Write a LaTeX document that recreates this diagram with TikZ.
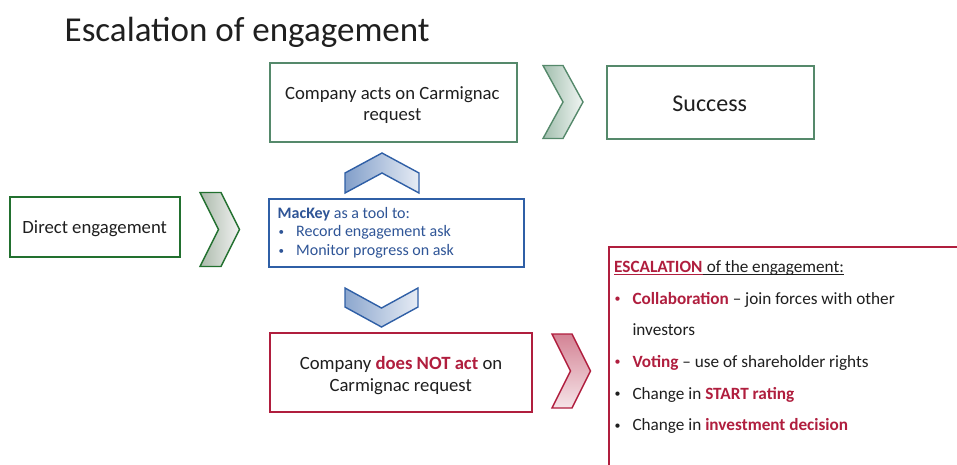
\documentclass[tikz,border=0pt]{standalone}
\usepackage{fontspec}
\setmainfont{Carlito}

\definecolor{ink}{HTML}{1F1F1F}
\definecolor{dkgreen}{HTML}{22702F}
\definecolor{mdgreen}{HTML}{55896B}
\definecolor{blueline}{HTML}{2F5FA6}
\definecolor{bluetext}{HTML}{2F5597}
\definecolor{crimson}{HTML}{B01E3E}

\newcommand{\smalldot}[2]{\raisebox{#2}{\fontsize{#1}{#1}\selectfont •}}

\begin{document}
\begin{tikzpicture}[x=1pt,y=-1pt,
  box/.style={draw, line width=2pt, fill=white, inner sep=0pt},
  txt/.style={inner sep=0pt, anchor=base, text=ink, font=\fontsize{18.7}{22}\selectfont},
  mtxt/.style={inner sep=0pt, anchor=base west, text=bluetext, font=\fontsize{16}{19}\selectfont},
  etxt/.style={inner sep=0pt, anchor=base west, text=ink, font=\fontsize{17.2}{20}\selectfont},
  dot/.style={inner sep=0pt, anchor=base west},
  chevron/.style={line width=1.4pt, line join=miter},
  uline/.style={line width=0.9pt},
]
\useasboundingbox (0,0) rectangle (957,464);
\clip (0,0) rectangle (957,464);

% title
\node[inner sep=0pt, anchor=base west, text=ink, font=\fontsize{35}{40}\selectfont]
  (title) at (64.5,41.5) {Escalation of engagement};

% boxes
\node[box, draw=dkgreen, minimum width=170, minimum height=60] (direct) at (95,227) {};
\node[box, draw=mdgreen, minimum width=247, minimum height=79] (acts) at (393.5,102.5) {};
\node[box, draw=mdgreen, minimum width=207, minimum height=73] (success) at (710.5,102) {};
\node[box, draw=blueline, minimum width=255, minimum height=68] (mackey) at (396.5,233) {};
\node[box, draw=crimson, minimum width=262, minimum height=79] (notact) at (401,372.5) {};
\node[box, draw=crimson, minimum width=400, minimum height=300, anchor=north west] (esc) at (607.5,246) {};

% chevrons
\draw[chevron, draw=dkgreen, left color=green!10!gray!60, right color=gray!10]
  (200,192.5) -- (221,192.5) -- (239.5,229.5) -- (221,266.5) -- (200,266.5) -- (218.5,229.5) -- cycle;
\draw[chevron, draw=mdgreen, left color=mdgreen!55, right color=mdgreen!8]
  (543,65.5) -- (563,65.5) -- (583,102) -- (563,138.5) -- (543,138.5) -- (563,102) -- cycle;
\draw[chevron, draw=crimson, top color=crimson!55, bottom color=crimson!12]
  (552,334) -- (572,334) -- (590.5,371) -- (572,408) -- (552,408) -- (570.5,371) -- cycle;
\draw[chevron, draw=blueline, left color=blueline!60, right color=blueline!12]
  (345,173) -- (382,153) -- (419,173) -- (419,193) -- (382,173) -- (345,193) -- cycle;
\draw[chevron, draw=blueline, left color=blueline!55, right color=blueline!12]
  (345,288) -- (381.5,308) -- (418,288) -- (418,307) -- (381.5,327) -- (345,307) -- cycle;

% box texts
\node[txt] (tdirect) at (94.7,233.3) {Direct engagement};
\node[txt] (tacts1) at (392.3,99.3) {Company acts on Carmignac};
\node[txt] (tacts2) at (392.3,120.6) {request};
\node[txt, font=\fontsize{24}{28}\selectfont] (tsuccess) at (709.7,111) {Success};
\node[txt] (tnot1) at (401,369.3) {Company \textcolor{crimson}{\textbf{does NOT act}} on};
\node[txt] (tnot2) at (400.7,391.2) {Carmignac request};

% MacKey box texts
\node[mtxt] (m0) at (277.5,218.3) {\textbf{MacKey} as a tool to:};
\node[dot, text=bluetext] (m1b) at (278.5,236.8) {\smalldot{11}{1.6pt}};
\node[mtxt] (m1) at (296,236.8) {Record engagement ask};
\node[dot, text=bluetext] (m2b) at (278.5,255.6) {\smalldot{11}{1.6pt}};
\node[mtxt] (m2) at (296,255.6) {Monitor progress on ask};

% escalation box texts
\node[etxt, text=crimson] (e0a) at (614,272.6) {\textbf{ESCALATION}};
\node[etxt, anchor=base west, xshift=3.9pt] (e0b) at (e0a.base east) {of the engagement:};
\draw[uline, draw=crimson] ([yshift=-2pt]e0a.base west) -- ([yshift=-2pt]e0a.base east);
\draw[uline, draw=ink] ([yshift=-2pt]e0a.base east) -- ([yshift=-2pt]e0b.base east);
\node[dot, text=crimson] (e1b) at (614.5,304.2) {\smalldot{12}{1.8pt}};
\node[etxt] (e1) at (632.3,304.2) {\textcolor{crimson}{\textbf{Collaboration}} – join forces with other};
\node[etxt] (e1c) at (632.3,335.8) {investors};
\node[dot, text=crimson] (e2b) at (614.5,367.5) {\smalldot{12}{1.8pt}};
\node[etxt] (e2) at (632.3,367.5) {\textcolor{crimson}{\textbf{Voting}} – use of shareholder rights};
\node[dot, text=ink] (e3b) at (614.5,399.2) {\smalldot{12}{1.8pt}};
\node[etxt] (e3) at (632.3,399.2) {Change in \textcolor{crimson}{\textbf{START rating}}};
\node[dot, text=ink] (e4b) at (614.5,430.8) {\smalldot{12}{1.8pt}};
\node[etxt] (e4) at (632.3,430.8) {Change in \textcolor{crimson}{\textbf{investment decision}}};
\end{tikzpicture}
\end{document}
